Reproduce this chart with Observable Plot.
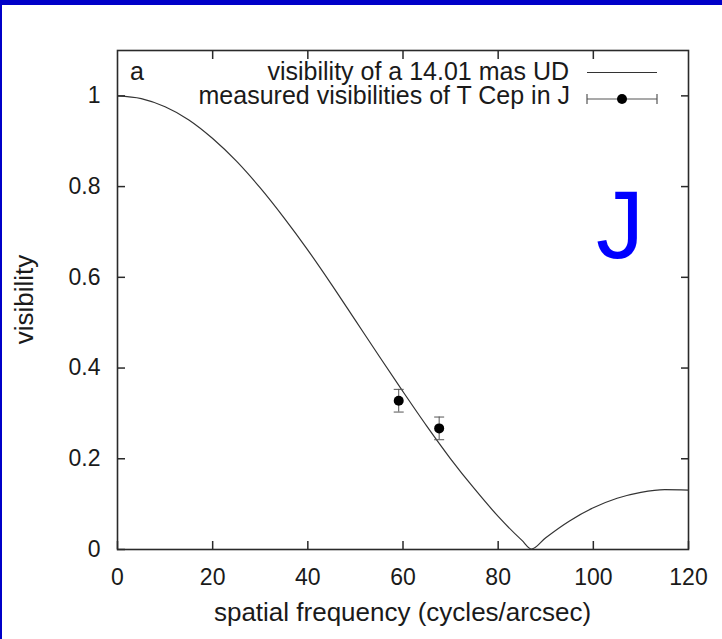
<!DOCTYPE html>
<html>
<head>
<meta charset="utf-8">
<script src="https://cdn.jsdelivr.net/npm/d3@7"></script>
<script src="https://cdn.jsdelivr.net/npm/@observablehq/plot@0.6"></script>
<style>
  html, body { margin: 0; padding: 0; background: #fff; }
  #wrap { position: relative; width: 722px; height: 639px; overflow: hidden; }
  #border { position: absolute; left: 0; top: 0; width: 722px; height: 639px; box-sizing: border-box;
            border-top: 5px solid #0000c8; border-left: 2px solid #0000c8; pointer-events: none; }
</style>
</head>
<body>
<div id="wrap"><div id="border"></div></div>
<script>
// Uniform-disk model curve
const modelFreq = [0, 5, 10, 15, 20, 25, 30, 35, 40, 45, 50, 55, 60, 65, 70, 75, 80, 85, 87, 90, 95, 100, 105, 110, 115, 120];
const modelVis  = [1.000, 0.994, 0.976, 0.947, 0.906, 0.856, 0.797, 0.731, 0.660, 0.584, 0.505, 0.426, 0.348, 0.272, 0.200, 0.134, 0.073, 0.020, 0.001, 0.026, 0.063, 0.092, 0.113, 0.126, 0.132, 0.131];

// Measured visibilities of T Cep in J
const measFreq = [59.1, 67.6];
const measVis  = [0.328, 0.267];
const measErr  = [0.025, 0.025];

const xTicks = [0, 20, 40, 60, 80, 100, 120];
const yTicks = [0, 0.2, 0.4, 0.6, 0.8, 1];
const xInner = [20, 40, 60, 80, 100];
const yInner = [0.2, 0.4, 0.6, 0.8, 1];

const xLabel = "spatial frequency (cycles/arcsec)";
const yLabel = "visibility";
const legendLabels = ["visibility of a 14.01 mas UD", "measured visibilities of T Cep in J"];
const panelLabel = "a";
const bandLabel = "J";

const model = modelFreq.map((f, i) => ({f, v: modelVis[i]}));
const meas = measFreq.map((f, i) => ({f, v: measVis[i], lo: measVis[i] - measErr[i], hi: measVis[i] + measErr[i]}));

const cap = { draw(ctx, size) { const w = 5; ctx.moveTo(-w, 0); ctx.lineTo(w, 0); } };
const ink = "#2a2a2a";
const font = "'Liberation Sans', Arial, Helvetica, sans-serif";

const chart = Plot.plot({
  width: 722, height: 639,
  marginLeft: 117, marginRight: 34, marginTop: 50, marginBottom: 90,
  style: { fontFamily: font, fontSize: "23px", color: "#1a1a1a", background: "transparent" },
  x: { domain: [0, 120] },
  y: { domain: [0, 1.1] },
  marks: [
    // tick labels
    Plot.axisX(xTicks, { anchor: "bottom", tickSize: 0, tickPadding: 19, fontSize: 23, tickFormat: d => String(d), label: null }),
    Plot.axisY(yTicks, { anchor: "left", tickSize: 0, tickPadding: 17, fontSize: 23, tickFormat: d => String(d), label: null }),
    // inward ticks on all four sides
    Plot.axisX(xTicks, { anchor: "bottom", tickSize: -8, tickFormat: () => "", label: null, stroke: ink, strokeWidth: 1.5 }),
    Plot.axisX(xInner, { anchor: "top", tickSize: -8, tickFormat: () => "", label: null, stroke: ink, strokeWidth: 1.5 }),
    Plot.axisY(yTicks, { anchor: "left", tickSize: -8, tickFormat: () => "", label: null, stroke: ink, strokeWidth: 1.5 }),
    Plot.axisY(yInner, { anchor: "right", tickSize: -8, tickFormat: () => "", label: null, stroke: ink, strokeWidth: 1.5 }),
    Plot.frame({ stroke: ink, strokeWidth: 1.6 }),
    // model curve
    Plot.line(model, { x: "f", y: "v", curve: "monotone-x", stroke: "#333", strokeWidth: 1.2 }),
    // error bars
    Plot.ruleX(meas, { x: "f", y1: "lo", y2: "hi", stroke: "#555", strokeWidth: 1 }),
    Plot.dot(meas, { x: "f", y: "lo", symbol: cap, stroke: "#555", strokeWidth: 1 }),
    Plot.dot(meas, { x: "f", y: "hi", symbol: cap, stroke: "#555", strokeWidth: 1 }),
    Plot.dot(meas, { x: "f", y: "v", r: 5, fill: "#000" })
  ]
});
document.getElementById("wrap").prepend(chart);

// annotations: axis titles, panel label, legend, band label
const svg = d3.select(chart);
const ann = svg.append("g").attr("font-family", font).attr("fill", "#1a1a1a");
ann.append("text").attr("x", 402.5).attr("y", 621).attr("text-anchor", "middle").attr("font-size", 26).text(xLabel);
ann.append("text").attr("transform", "translate(33,299.5) rotate(-90)").attr("text-anchor", "middle").attr("font-size", 26).text(yLabel);
ann.append("text").attr("x", 137).attr("y", 80).attr("font-size", 25).text(panelLabel);
ann.append("text").attr("x", 569).attr("y", 80).attr("text-anchor", "end").attr("font-size", 25).text(legendLabels[0]);
ann.append("text").attr("x", 570).attr("y", 104).attr("text-anchor", "end").attr("font-size", 25).text(legendLabels[1]);
ann.append("text").attr("x", 620).attr("y", 258).attr("text-anchor", "middle").attr("font-size", 96).attr("fill", "#0000ff").text(bandLabel);

const lg = svg.append("g").attr("stroke-width", 1.2);
lg.append("line").attr("x1", 587).attr("x2", 657).attr("y1", 72.5).attr("y2", 72.5).attr("stroke", "#333");
lg.append("line").attr("x1", 587).attr("x2", 657).attr("y1", 99).attr("y2", 99).attr("stroke", "#555");
[587, 657].forEach(x => lg.append("line").attr("x1", x).attr("x2", x).attr("y1", 94).attr("y2", 104).attr("stroke", "#555"));
lg.append("circle").attr("cx", 622).attr("cy", 99).attr("r", 5).attr("fill", "#000");
</script>
</body>
</html>
